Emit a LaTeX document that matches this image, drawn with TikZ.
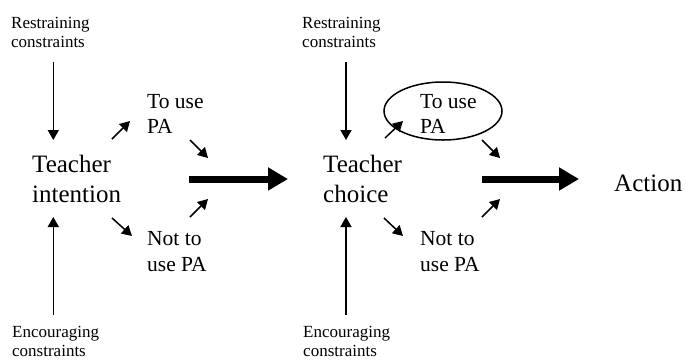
\documentclass[tikz,border=0pt]{standalone}
\usepackage{fontspec}
\setmainfont{Liberation Serif}
\usetikzlibrary{arrows.meta,shapes.geometric}
\tikzset{
  small/.style={inner sep=0pt, anchor=base west, font=\fontsize{17}{19}\selectfont},
  medium/.style={inner sep=0pt, anchor=base west, font=\fontsize{21.5}{25}\selectfont},
  large/.style={inner sep=0pt, anchor=base west, font=\fontsize{25}{30}\selectfont},
  thin arrow/.style={line width=1.5pt, -{Triangle[length=10pt,width=11pt]}},
  big arrow/.style={line width=7pt, -{Triangle[length=20pt,width=22pt]}},
}
\begin{document}
\begin{tikzpicture}[x=1pt,y=-1pt]
\useasboundingbox (0,0) rectangle (686,360);
% ---- left group ----
\node[small] (r1a) at (11,28) {Restraining};
\node[small] (r1b) at (11,47) {constraints};
\node[large] (t1a) at (32,172) {Teacher};
\node[large] (t1b) at (32,202) {intention};
\node[small] (e1a) at (12,337) {Encouraging};
\node[small] (e1b) at (12,356) {constraints};
\node[medium] (u1a) at (147,108) {To use};
\node[medium] (u1b) at (147,133) {PA};
\node[medium] (n1a) at (147,245) {Not to};
\node[medium] (n1b) at (147,271) {use PA};
% ---- middle group ----
\node[small] (r2a) at (302,28) {Restraining};
\node[small] (r2b) at (302,47) {constraints};
\node[large] (t2a) at (323,172) {Teacher};
\node[large] (t2b) at (323,202) {choice};
\node[small] (e2a) at (303,337) {Encouraging};
\node[small] (e2b) at (303,356) {constraints};
\node[medium] (u2a) at (420,108) {To use};
\node[medium] (u2b) at (420,133) {PA};
\node[medium] (n2a) at (420,245) {Not to};
\node[medium] (n2b) at (420,271) {use PA};
\node[draw, line width=1.5pt, ellipse, minimum width=118pt, minimum height=58pt, inner sep=0pt] (ell) at (443,111) {};
% ---- right ----
\node[large] (act) at (614,191) {Action};
% ---- coordinates ----
\coordinate (d1s) at (53.3,62);  \coordinate (d1e) at (53.3,140);
\coordinate (p1s) at (53.3,315); \coordinate (p1e) at (53.3,217);
\coordinate (a1s) at (112,139); \coordinate (a1e) at (130,121);
\coordinate (b1s) at (190,140); \coordinate (b1e) at (208,158);
\coordinate (c1s) at (112,218); \coordinate (c1e) at (132,236);
\coordinate (f1s) at (190,217); \coordinate (f1e) at (208,199);
\coordinate (g1s) at (189,179); \coordinate (g1e) at (288,179);
\coordinate (d2s) at (346,62);  \coordinate (d2e) at (346,140);
\coordinate (p2s) at (346,315); \coordinate (p2e) at (346,217);
\coordinate (a2s) at (385,138); \coordinate (a2e) at (403,121);
\coordinate (b2s) at (482,140); \coordinate (b2e) at (500,158);
\coordinate (c2s) at (384,218); \coordinate (c2e) at (403,236);
\coordinate (f2s) at (482,217); \coordinate (f2e) at (500,199);
\coordinate (g2s) at (482,179); \coordinate (g2e) at (579,179);
% ---- arrows ----
\foreach \i in {1,2}{
  \draw[thin arrow] (d\i s) -- (d\i e);
  \draw[thin arrow] (p\i s) -- (p\i e);
  \draw[thin arrow] (a\i s) -- (a\i e);
  \draw[thin arrow] (b\i s) -- (b\i e);
  \draw[thin arrow] (c\i s) -- (c\i e);
  \draw[thin arrow] (f\i s) -- (f\i e);
  \draw[big arrow] (g\i s) -- (g\i e);
}
\end{tikzpicture}
\end{document}
